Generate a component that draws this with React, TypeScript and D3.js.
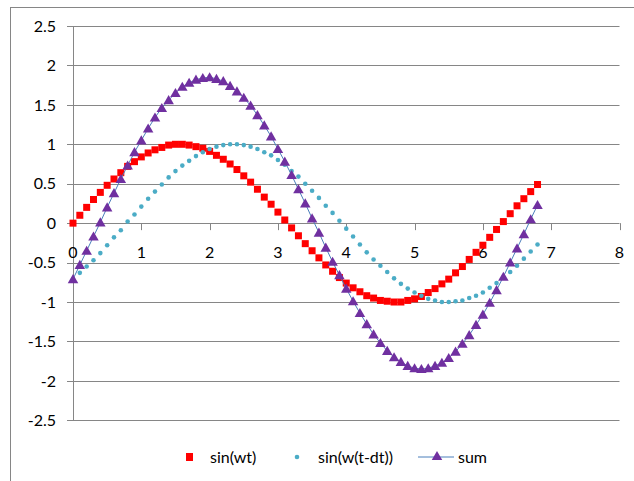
import React from 'react'
import * as d3 from 'd3'

// t values (0 .. 6.8 step 0.1) and the three series
const tValues = [
  0, 0.1, 0.2, 0.3, 0.4, 0.5, 0.6, 0.7, 0.8, 0.9,
  1, 1.1, 1.2, 1.3, 1.4, 1.5, 1.6, 1.7, 1.8, 1.9,
  2, 2.1, 2.2, 2.3, 2.4, 2.5, 2.6, 2.7, 2.8, 2.9,
  3, 3.1, 3.2, 3.3, 3.4, 3.5, 3.6, 3.7, 3.8, 3.9,
  4, 4.1, 4.2, 4.3, 4.4, 4.5, 4.6, 4.7, 4.8, 4.9,
  5, 5.1, 5.2, 5.3, 5.4, 5.5, 5.6, 5.7, 5.8, 5.9,
  6, 6.1, 6.2, 6.3, 6.4, 6.5, 6.6, 6.7, 6.8,
]

const sinWt = [
  0.00, 0.10, 0.20, 0.30, 0.39, 0.48, 0.56, 0.64, 0.72, 0.78,
  0.84, 0.89, 0.93, 0.96, 0.99, 1.00, 1.00, 0.99, 0.97, 0.95,
  0.91, 0.86, 0.81, 0.75, 0.68, 0.60, 0.52, 0.43, 0.33, 0.24,
  0.14, 0.04, -0.06, -0.16, -0.26, -0.35, -0.44, -0.53, -0.61, -0.69,
  -0.76, -0.82, -0.87, -0.92, -0.95, -0.98, -0.99, -1.00, -1.00, -0.98,
  -0.96, -0.93, -0.88, -0.83, -0.77, -0.71, -0.63, -0.55, -0.46, -0.37,
  -0.28, -0.18, -0.08, 0.02, 0.12, 0.22, 0.31, 0.40, 0.49,
]

const sinShifted = [
  -0.71, -0.63, -0.55, -0.47, -0.38, -0.28, -0.18, -0.09, 0.02, 0.11,
  0.21, 0.31, 0.40, 0.49, 0.58, 0.66, 0.73, 0.79, 0.85, 0.90,
  0.94, 0.97, 0.99, 1.00, 1.00, 0.99, 0.97, 0.94, 0.90, 0.86,
  0.80, 0.74, 0.66, 0.59, 0.50, 0.41, 0.32, 0.22, 0.13, 0.03,
  -0.07, -0.17, -0.27, -0.37, -0.46, -0.54, -0.62, -0.70, -0.77, -0.83,
  -0.88, -0.92, -0.96, -0.98, -1.00, -1.00, -0.99, -0.98, -0.95, -0.92,
  -0.88, -0.82, -0.76, -0.69, -0.62, -0.54, -0.45, -0.36, -0.27,
]

const sumValues = [
  -0.71, -0.53, -0.35, -0.17, 0.01, 0.20, 0.38, 0.56, 0.73, 0.90,
  1.05, 1.20, 1.34, 1.46, 1.56, 1.65, 1.73, 1.78, 1.82, 1.84,
  1.85, 1.83, 1.80, 1.74, 1.67, 1.59, 1.49, 1.37, 1.24, 1.10,
  0.94, 0.78, 0.61, 0.43, 0.25, 0.06, -0.12, -0.31, -0.49, -0.66,
  -0.83, -0.99, -1.14, -1.28, -1.41, -1.52, -1.62, -1.70, -1.76, -1.81,
  -1.84, -1.85, -1.84, -1.81, -1.77, -1.71, -1.63, -1.53, -1.42, -1.29,
  -1.16, -1.01, -0.85, -0.68, -0.50, -0.32, -0.14, 0.05, 0.23,
]

const xTicks = [0, 1, 2, 3, 4, 5, 6, 7, 8]
const yTicks = [2.5, 2, 1.5, 1, 0.5, 0, -0.5, -1, -1.5, -2, -2.5]
const seriesNames = ['sin(wt)', 'sin(w(t-dt))', 'sum']

const W = 634
const H = 481
const font = 'Lato, "Open Sans", sans-serif'
const grid = '#868686'

export default function App() {
  const x = d3.scaleLinear().domain([0, 8]).range([73, 619.5])
  const y = d3.scaleLinear().domain([-2.5, 2.5]).range([420.3, 26])

  const redPts = tValues.map((t, i) => [x(t), y(sinWt[i])])
  const tealPts = tValues.map((t, i) => [x(t), y(sinShifted[i])])
  const sumPts = tValues.map((t, i) => [x(t), y(sumValues[i])])

  const line = d3.line()
  const tri = d3.symbol().type(d3.symbolTriangle).size(48)()

  const legendY = 457

  return (
    <svg width={W} height={H} style={{ position: 'absolute', left: 0, top: 0, background: '#fff' }}>
      <rect x={10.5} y={7.5} width={W} height={H} fill="#fff" stroke={grid} strokeWidth={1} />

      {yTicks.map(v => (
        <g key={'gy' + v}>
          <line x1={67} x2={619.5} y1={Math.round(y(v)) + 0.5} y2={Math.round(y(v)) + 0.5} stroke={grid} strokeWidth={1} />
          <text x={56} y={y(v)} dy="0.36em" textAnchor="end" fontFamily={font} fontSize={16} fill="#000">
            {v}
          </text>
        </g>
      ))}

      <line x1={73.5} x2={73.5} y1={y(2.5)} y2={y(-2.5)} stroke={grid} strokeWidth={1} />

      {xTicks.map(v => (
        <g key={'gx' + v}>
          <line x1={Math.round(x(v)) + 0.5} x2={Math.round(x(v)) + 0.5} y1={y(0)} y2={y(0) + 7} stroke={grid} strokeWidth={1} />
          <text x={x(v)} y={252} dy="0.36em" textAnchor="middle" fontFamily={font} fontSize={16} fill="#000">
            {v}
          </text>
        </g>
      ))}

      {redPts.map((p, i) => (
        <rect key={'r' + i} x={p[0] - 3.5} y={p[1] - 3.5} width={7} height={7} fill="#ff0000" />
      ))}

      {tealPts.map((p, i) => (
        <circle key={'c' + i} cx={p[0]} cy={p[1]} r={2.3} fill="#4bacc6" />
      ))}

      <path d={line(sumPts as [number, number][]) || ''} fill="none" stroke="#4a7ebb" strokeWidth={1} />
      {sumPts.map((p, i) => (
        <path key={'t' + i} d={tri || ''} transform={`translate(${p[0]},${p[1] + 1})`} fill="#7030a0" />
      ))}

      {/* legend */}
      <rect x={186} y={legendY - 4} width={7} height={8} fill="#ff0000" />
      <text x={210} y={legendY} dy="0.36em" fontFamily={font} fontSize={16} fill="#000">{seriesNames[0]}</text>
      <circle cx={297} cy={legendY} r={2.3} fill="#4bacc6" />
      <text x={318} y={legendY} dy="0.36em" fontFamily={font} fontSize={16} fill="#000">{seriesNames[1]}</text>
      <line x1={418} x2={454} y1={legendY} y2={legendY} stroke="#4a7ebb" strokeWidth={1} />
      <path d={tri || ''} transform={`translate(437,${legendY})`} fill="#7030a0" />
      <text x={458} y={legendY} dy="0.36em" fontFamily={font} fontSize={16} fill="#000">{seriesNames[2]}</text>
    </svg>
  )
}
